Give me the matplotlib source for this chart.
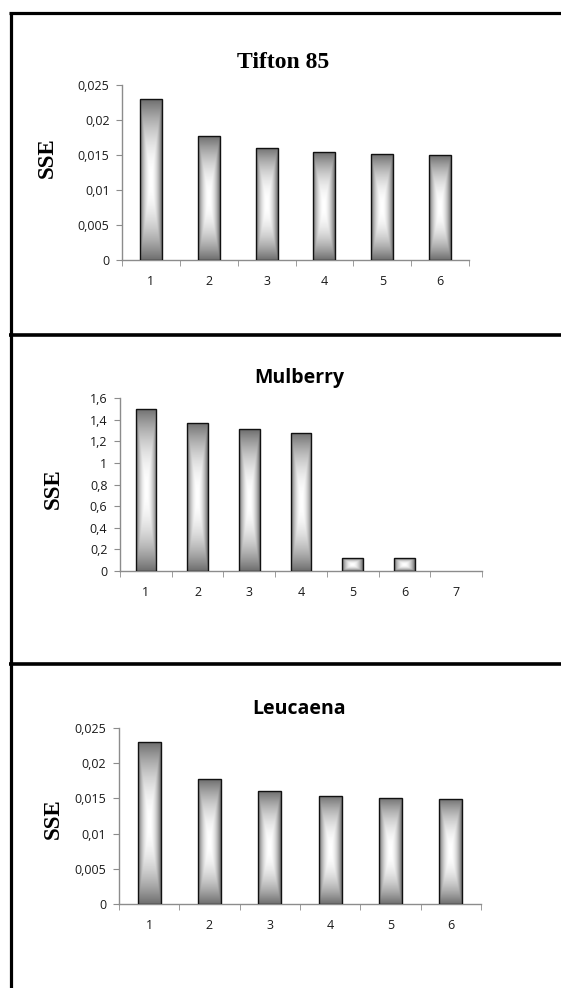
import numpy as np
import matplotlib
matplotlib.use("Agg")
import matplotlib.pyplot as plt
from matplotlib.lines import Line2D
from matplotlib.colors import LinearSegmentedColormap

# ---- data ----
titles = ["Tifton 85", "Mulberry", "Leucaena"]
ylabel = "SSE"
cats_tifton = [1, 2, 3, 4, 5, 6]
sse_tifton = [0.02295, 0.01771, 0.01605, 0.01538, 0.01510, 0.01495]
cats_mulberry = [1, 2, 3, 4, 5, 6, 7]
sse_mulberry = [1.50, 1.372, 1.311, 1.28, 0.117, 0.117, 0.0]
cats_leucaena = [1, 2, 3, 4, 5, 6]
sse_leucaena = [0.02297, 0.01772, 0.01602, 0.01541, 0.01512, 0.01493]
yticks_small = [0, 0.005, 0.01, 0.015, 0.02, 0.025]
yticklabels_small = ["0", "0,005", "0,01", "0,015", "0,02", "0,025"]
yticks_mul = [0, 0.2, 0.4, 0.6, 0.8, 1.0, 1.2, 1.4, 1.6]
yticklabels_mul = ["0", "0,2", "0,4", "0,6", "0,8", "1", "1,2", "1,4", "1,6"]

W, H = 561, 988
fig = plt.figure(figsize=(W / 100, H / 100), dpi=100)

def fx(px):
    return px / W

def fy(py):
    return 1 - py / H

cmap = LinearSegmentedColormap.from_list("g", ["#ffffff", "#6e6e6e"])
nx, ny = 60, 300
u = np.linspace(-1, 1, nx)
v = np.linspace(-1, 1, ny)
U, V = np.meshgrid(u, v)
T = np.maximum(np.abs(U), np.abs(V))
T = T ** 2.0

panels = [
    dict(title=titles[0], cats=cats_tifton, vals=sse_tifton, yt=yticks_small, ytl=yticklabels_small,
         ymax=0.025, box=(122, 469, 85, 260), tfont="Liberation Serif", tpos=(283, 68), tsize=17,
         lab=(47, 158), width=0.38),
    dict(title=titles[1], cats=cats_mulberry, vals=sse_mulberry, yt=yticks_mul, ytl=yticklabels_mul,
         ymax=1.6, box=(120, 482, 398, 571), tfont="Open Sans", tpos=(299, 383), tsize=14,
         lab=(53, 489), width=0.40),
    dict(title=titles[2], cats=cats_leucaena, vals=sse_leucaena, yt=yticks_small, ytl=yticklabels_small,
         ymax=0.025, box=(119, 481, 728, 904), tfont="Open Sans", tpos=(299, 714), tsize=14,
         lab=(53, 819), width=0.38),
]

for p in panels:
    l, r, t, b = p["box"]
    ax = fig.add_axes([fx(l), fy(b), fx(r) - fx(l), fy(t) - fy(b)])
    n = len(p["cats"])
    ax.set_xlim(0.5, n + 0.5)
    ax.set_ylim(0, p["ymax"])
    bars = ax.bar(p["cats"], p["vals"], width=p["width"], facecolor="none",
                  edgecolor="#111111", linewidth=1.0, zorder=3)
    for bar in bars:
        x0 = bar.get_x()
        w = bar.get_width()
        h = bar.get_height()
        if h <= 0:
            bar.set_visible(False)
            continue
        im = ax.imshow(T, cmap=cmap, vmin=0, vmax=1, extent=[x0, x0 + w, 0, h],
                       aspect="auto", origin="lower", zorder=2, interpolation="bilinear")
        im.set_clip_path(bar)
    ax.set_xlim(0.5, n + 0.5)
    ax.set_ylim(0, p["ymax"])
    for s in ["top", "right"]:
        ax.spines[s].set_visible(False)
    for s in ["left", "bottom"]:
        ax.spines[s].set_color("#8c8c8c")
        ax.spines[s].set_linewidth(1.0)
    ax.set_yticks(p["yt"])
    ax.set_yticklabels(p["ytl"], fontfamily="Open Sans", fontsize=9, color="#1a1a1a")
    ax.set_xticks(p["cats"])
    ax.set_xticklabels([str(c) for c in p["cats"]], fontfamily="Open Sans", fontsize=9, color="#1a1a1a")
    ax.set_xticks(np.arange(0.5, n + 1.0, 1.0), minor=True)
    ax.tick_params(axis="x", which="major", length=0, pad=10.5)
    ax.tick_params(axis="x", which="minor", length=4, color="#8c8c8c", direction="out")
    ax.tick_params(axis="y", which="major", length=4, color="#8c8c8c", direction="out", pad=5)
    fig.text(fx(p["tpos"][0]), fy(p["tpos"][1]), p["title"], ha="center", va="baseline",
             fontfamily=p["tfont"], fontweight="bold", fontsize=p["tsize"])
    fig.text(fx(p["lab"][0]), fy(p["lab"][1]), ylabel, ha="center", va="center", rotation=90,
             fontfamily="Liberation Serif", fontweight="bold", fontsize=16.5)

# frame lines
lw = 2.3
fig.add_artist(Line2D([fx(9), 1.0], [fy(13.3), fy(13.3)], color="black", lw=lw, solid_capstyle="butt"))
fig.add_artist(Line2D([fx(10.5), fx(10.5)], [fy(12), 0.0], color="black", lw=lw, solid_capstyle="butt"))
fig.add_artist(Line2D([fx(9), 1.0], [fy(335), fy(335)], color="black", lw=2.6, solid_capstyle="butt"))
fig.add_artist(Line2D([fx(9), 1.0], [fy(664), fy(664)], color="black", lw=2.6, solid_capstyle="butt"))

fig.savefig("out.png", dpi=100)
